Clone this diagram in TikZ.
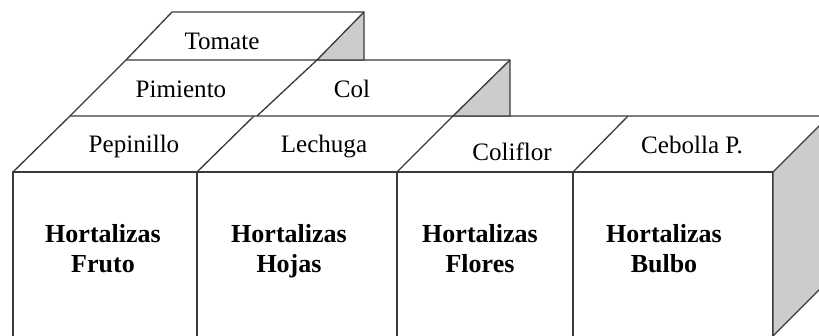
\documentclass[tikz,border=0pt]{standalone}
\usepackage{fontspec}
\setmainfont{Liberation Serif}
\usepackage{xcolor}
\usepackage{tikz}
\definecolor{facegray}{HTML}{CCCCCC}
\definecolor{edgegray}{HTML}{3A3A3A}

\begin{document}
\begin{tikzpicture}[x=0.75pt, y=-0.75pt,
  edge/.style={draw=edgegray, line width=1pt, line join=round},
  side/.style={edge, fill=facegray},
  crop/.style={font=\fontsize{18.8}{22}\selectfont, anchor=base, inner sep=0pt},
  group/.style={font=\fontsize{19.5}{22.5}\selectfont\bfseries, align=center, anchor=base, inner sep=0pt}]
\useasboundingbox (0,0) rectangle (819,336);
\clip (0,0) rectangle (819,336);

% ---- front boxes (bottom tier) ------------------------------------------
\draw[edge] (13,340) -- (13,172) -- (773,172) -- (773,340);
\draw[edge] (197,172) -- (197,340);
\draw[edge] (397,172) -- (397,340);
\draw[edge] (573,172) -- (573,340);
\draw[side] (773,172) -- (829,116) -- (829,280) -- (773,336) -- cycle;

% ---- top faces, bottom tier ---------------------------------------------
\draw[edge] (13,172) -- (70,116) -- (829,116);
\draw[edge] (197,172) -- (254,116);
\draw[edge] (397,172) -- (453,116);
\draw[edge] (573,172) -- (628,116);

% ---- middle tier --------------------------------------------------------
\draw[edge] (70,116) -- (126,60) -- (510,60);
\draw[edge] (257,116) -- (317,60);
\draw[side] (453,116) -- (510,60) -- (510,116) -- cycle;

% ---- top tier -----------------------------------------------------------
\draw[edge] (126,60) -- (172,12) -- (364,12);
\draw[side] (317,60) -- (364,12) -- (364,60) -- cycle;

% ---- labels -------------------------------------------------------------
\node[crop] (tomate)    at (222,49)  {Tomate};
\node[crop] (pimiento)  at (181,97)  {Pimiento};
\node[crop] (col)       at (352,97)  {Col};
\node[crop] (pepinillo) at (134,152) {Pepinillo};
\node[crop] (lechuga)   at (324,152) {Lechuga};
\node[crop] (coliflor)  at (512,160) {Coliflor};
\node[crop] (cebolla)   at (692,153) {Cebolla P.};

\node[group] (fruto)  at (103,272) {Hortalizas\\Fruto};
\node[group] (hojas)  at (289,272) {Hortalizas\\Hojas};
\node[group] (flores) at (480,272) {Hortalizas\\Flores};
\node[group] (bulbo)  at (664,272) {Hortalizas\\Bulbo};
\end{tikzpicture}
\end{document}
